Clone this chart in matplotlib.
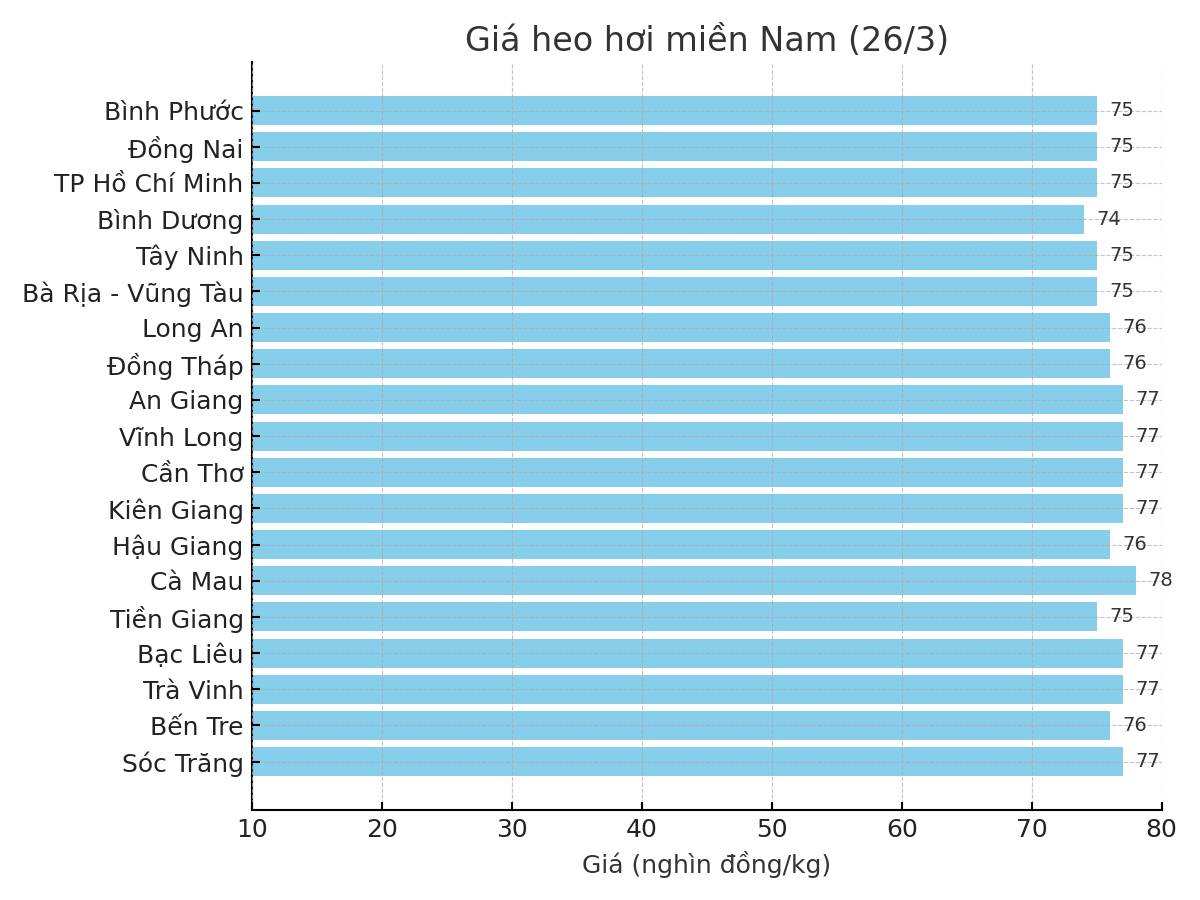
import matplotlib.pyplot as plt

provinces = [
    "Bình Phước", "Đồng Nai", "TP Hồ Chí Minh", "Bình Dương", "Tây Ninh",
    "Bà Rịa - Vũng Tàu", "Long An", "Đồng Tháp", "An Giang", "Vĩnh Long",
    "Cần Thơ", "Kiên Giang", "Hậu Giang", "Cà Mau", "Tiền Giang",
    "Bạc Liêu", "Trà Vinh", "Bến Tre", "Sóc Trăng",
]
prices = [75, 75, 75, 74, 75, 75, 76, 76, 77, 77, 77, 77, 76, 78, 75, 77, 77, 76, 77]
xticks = [10, 20, 30, 40, 50, 60, 70, 80]

plt.rcParams['font.family'] = ['DejaVu Sans']
plt.rcParams['text.color'] = '#333333'

fig, ax = plt.subplots(figsize=(12, 9), dpi=100)
fig.subplots_adjust(left=0.21, right=0.968, top=0.931, bottom=0.1)

ax.barh(provinces, prices, color='skyblue', zorder=1)
ax.invert_yaxis()

for i, v in enumerate(prices):
    ax.text(v + 1, i, str(v), va='center', ha='left', fontsize=14, color='#333333')

ax.set_xlim(10, 80)
ax.set_xticks(xticks)
ax.grid(True, linestyle='--', color='#aaaaaa', alpha=0.7, linewidth=0.8, zorder=2)
ax.set_axisbelow(False)
ax.spines['top'].set_visible(False)
ax.spines['right'].set_visible(False)
ax.spines['left'].set_linewidth(1.5)
ax.spines['bottom'].set_linewidth(1.5)
ax.tick_params(direction='in', labelsize=18, length=6, width=1.5, labelcolor='#222222', pad=6)
ax.set_xlabel("Giá (nghìn đồng/kg)", fontsize=18, color='#333333', labelpad=6)
ax.set_title("Giá heo hơi miền Nam (26/3)", fontsize=24, color='#333333', pad=8)

fig.savefig("out.png", dpi=100)
